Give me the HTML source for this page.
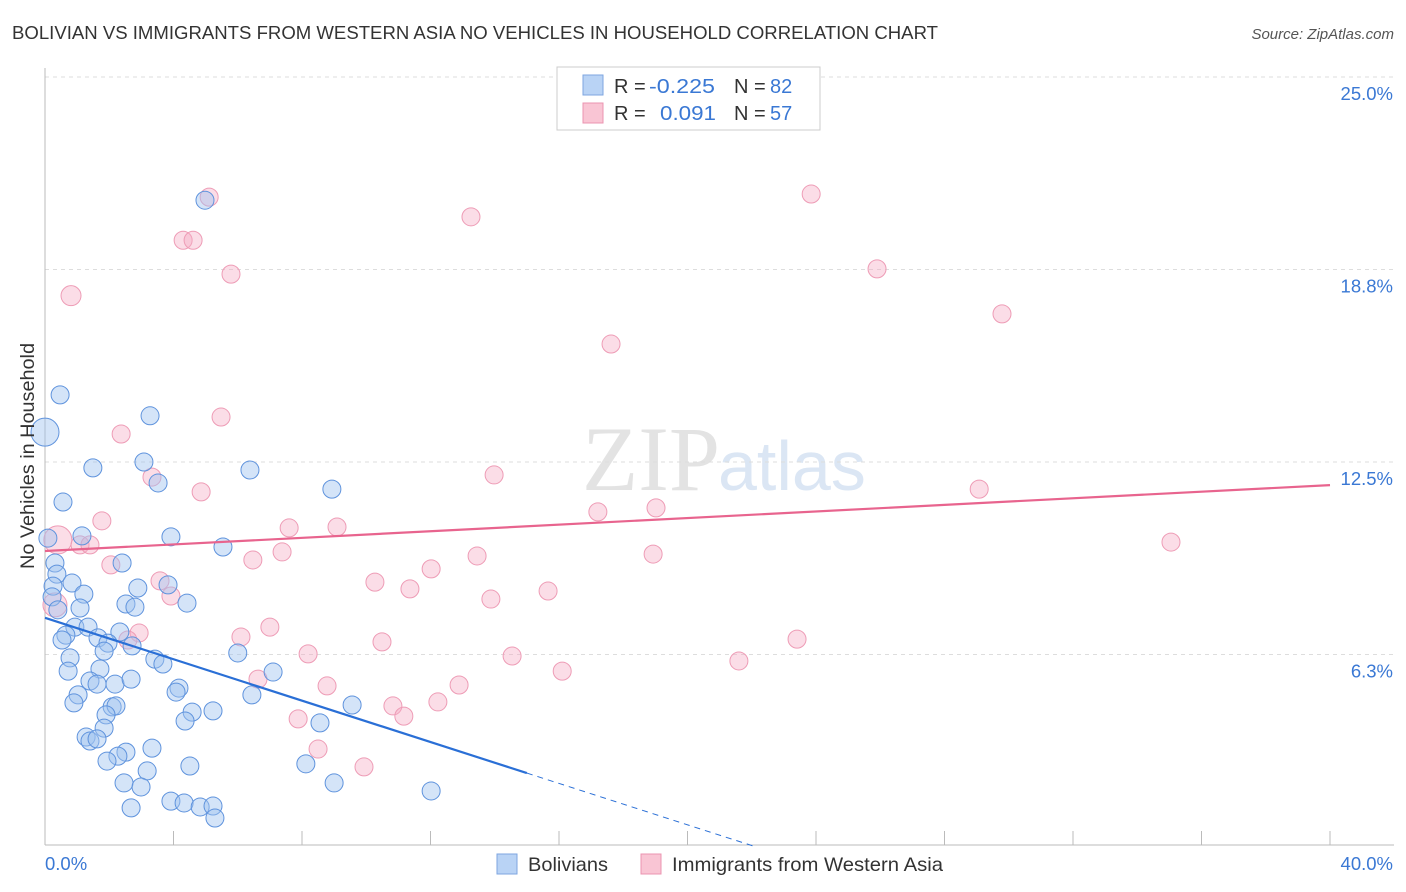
<!DOCTYPE html>
<html><head><meta charset="utf-8">
<style>
body{margin:0;background:#fff;font-family:"Liberation Sans",sans-serif;}
svg{display:block}
</style></head>
<body>
<svg id="chart" width="1406" height="892" xmlns="http://www.w3.org/2000/svg" font-family="Liberation Sans, sans-serif">
<text x="12" y="39" font-size="18" fill="#333" textLength="926" lengthAdjust="spacingAndGlyphs">BOLIVIAN VS IMMIGRANTS FROM WESTERN ASIA NO VEHICLES IN HOUSEHOLD CORRELATION CHART</text>
<text x="1394" y="39" font-size="15" fill="#555" text-anchor="end" font-style="italic">Source: ZipAtlas.com</text>
<text x="720" y="490" font-size="92" fill="#e3e3e3" text-anchor="end" font-family="Liberation Serif, serif">ZIP</text>
<text x="718" y="490" font-size="70" fill="#dbe6f4">atlas</text>
<g id="grid"></g>
<g id="axes"></g>
<g id="marks"></g>
<text transform="translate(34,456) rotate(-90)" font-size="19" fill="#333" text-anchor="middle" textLength="226" lengthAdjust="spacingAndGlyphs">No Vehicles in Household</text>
<g>
<rect x="557" y="67" width="263" height="63" fill="#fff" stroke="#ccc"/>
<rect x="583" y="75" width="20" height="20" fill="#b9d3f5" stroke="#7ea6e0"/>
<rect x="583" y="103" width="20" height="20" fill="#f9c5d4" stroke="#eb94b0"/>
<text x="614" y="93" font-size="20" fill="#333">R =</text>
<text x="649" y="93" font-size="20" fill="#3a78d4" textLength="66" lengthAdjust="spacingAndGlyphs">-0.225</text>
<text x="734" y="93" font-size="20" fill="#333">N =</text>
<text x="770" y="93" font-size="20" fill="#3a78d4">82</text>
<text x="614" y="120" font-size="20" fill="#333">R =</text>
<text x="660" y="120" font-size="20" fill="#3a78d4" textLength="56" lengthAdjust="spacingAndGlyphs">0.091</text>
<text x="734" y="120" font-size="20" fill="#333">N =</text>
<text x="770" y="120" font-size="20" fill="#3a78d4">57</text>
</g>
<g>
<rect x="497" y="854" width="20" height="20" fill="#b9d3f5" stroke="#7ea6e0"/>
<text x="528" y="871" font-size="19.5" fill="#333" textLength="80" lengthAdjust="spacingAndGlyphs">Bolivians</text>
<rect x="641" y="854" width="20" height="20" fill="#f9c5d4" stroke="#eb94b0"/>
<text x="672" y="871" font-size="19.5" fill="#333" textLength="271" lengthAdjust="spacingAndGlyphs">Immigrants from Western Asia</text>
</g>
</svg>
<script>
const yTicks=[6.25,12.5,18.75,25];
const yTickLabels=["6.3%","12.5%","18.8%","25.0%"];
const xTickLabels=["0.0%","40.0%"];
const blueX=[0,0.47,0.56,1.49,3.27,3.08,3.52,4.98,6.38,8.93,3.92,5.54,0.09,1.15,0.31,0.37,0.84,0.25,0.22,1.21,2.40,2.89,3.83,2.52,2.80,4.42,1.09,0.40,0.93,1.34,0.65,0.53,1.65,2.33,1.96,2.71,1.84,0.78,3.42,3.67,6.0,0.72,1.71,7.10,1.40,1.62,2.18,2.68,4.17,4.08,6.44,1.03,0.90,2.09,2.21,1.90,4.58,5.23,9.56,4.36,8.56,1.84,1.28,1.40,1.62,3.33,2.52,2.27,1.93,4.51,3.18,8.12,2.46,2.99,9.0,12.02,3.92,4.33,2.68,4.83,5.23,5.29];
const blueY=[13.47,14.68,11.2,12.31,14.0,12.5,11.82,21.0,12.24,11.62,10.07,9.74,10.03,10.1,9.22,8.86,8.57,8.47,8.12,8.21,9.22,8.41,8.51,7.89,7.79,7.92,7.76,7.7,7.14,7.14,6.88,6.72,6.79,6.98,6.62,6.53,6.36,6.14,6.1,5.94,6.3,5.71,5.78,5.68,5.39,5.29,5.29,5.45,5.16,5.03,4.94,4.94,4.68,4.55,4.58,4.29,4.38,4.42,4.61,4.09,4.03,3.86,3.57,3.44,3.51,3.21,3.08,2.95,2.79,2.63,2.47,2.70,2.08,1.95,2.08,1.82,1.49,1.43,1.27,1.30,1.33,0.94];
const pinkX=[5.11,4.30,4.61,5.79,0.81,13.26,23.85,25.9,29.79,17.62,5.48,2.37,3.33,4.86,13.98,29.08,19.02,17.21,1.77,7.60,9.09,0.40,1.09,1.40,35.05,7.38,6.47,13.45,18.93,2.05,12.02,10.27,11.36,15.66,3.58,3.92,13.88,0.31,2.93,2.58,7.0,6.10,10.49,23.41,8.19,14.54,21.6,16.1,6.63,8.78,12.89,12.23,10.83,11.17,7.88,8.50,9.93];
const pinkY=[21.1,19.7,19.7,18.6,17.9,20.46,21.2,18.77,17.31,16.33,13.96,13.41,12.01,11.53,12.08,11.62,11.01,10.88,10.59,10.36,10.39,9.97,9.81,9.81,9.90,9.58,9.32,9.45,9.51,9.16,9.03,8.6,8.38,8.31,8.64,8.15,8.05,7.86,6.95,6.72,7.14,6.82,6.66,6.75,6.27,6.20,6.04,5.71,5.45,5.23,5.26,4.71,4.58,4.25,4.16,3.18,2.6];
const blueBig={0:14}; const pinkBig={4:10,21:14,37:12};
const blueFit=[7.44,-0.336]; const pinkFit=[9.61,0.0535];
const X=v=>45+v*(1285/40), Y=v=>847-v*30.8;
const NS="http://www.w3.org/2000/svg";
function mk(t,a,p){const e=document.createElementNS(NS,t);for(const k in a)e.setAttribute(k,a[k]);p.appendChild(e);return e;}
const grid=document.getElementById('grid'),axes=document.getElementById('axes'),marks=document.getElementById('marks');
yTicks.forEach((t,i)=>{const l=mk('line',{x1:45,x2:1394,y1:Y(t),y2:Y(t),stroke:'#ddd','stroke-dasharray':'4,4'},grid);


const tx=mk('text',{x:1393,y:Y(t)+23,'font-size':18.5,fill:'#3a78d4','text-anchor':'end'},axes);tx.textContent=yTickLabels[i];

});
const ax=mk('line',{x1:45,x2:1394,y1:845,y2:845,stroke:'#bbb'},axes);


const ay=mk('line',{x1:45,x2:45,y1:68,y2:845,stroke:'#bbb'},axes);


for(let i=0;i<=10;i++){const t=mk('line',{x1:X(i*4),x2:X(i*4),y1:831,y2:845,stroke:'#bbb'},axes);

}
[[0,'start',45],[40,'end',1393]].forEach((d,i)=>{const t=mk('text',{x:d[2],y:870,'font-size':18.5,fill:'#3a78d4','text-anchor':d[1]},axes);t.textContent=xTickLabels[i];

});
pinkX.forEach((x,i)=>{const c=mk('circle',{cx:X(x),cy:Y(pinkY[i]),r:pinkBig[i]||9,fill:'rgba(246,170,195,0.4)',stroke:'#ee9cb6','stroke-width':1},marks);

});
blueX.forEach((x,i)=>{const c=mk('circle',{cx:X(x),cy:Y(blueY[i]),r:blueBig[i]||9,fill:'rgba(160,195,240,0.45)',stroke:'#5f93dd','stroke-width':1},marks);

});
const pl=mk('line',{x1:X(0),y1:Y(pinkFit[0]),x2:X(40),y2:Y(pinkFit[0]+40*pinkFit[1]),stroke:'#e8648e','stroke-width':2.2},marks);


const bl=mk('line',{x1:X(0),y1:Y(blueFit[0]),x2:X(15),y2:Y(blueFit[0]+15*blueFit[1]),stroke:'#2a6fd6','stroke-width':2.2},marks);


const xe=-blueFit[0]/blueFit[1];
const bd=mk('line',{x1:X(15),y1:Y(blueFit[0]+15*blueFit[1]),x2:X(xe),y2:Y(0),stroke:'#2a6fd6','stroke-width':1,'stroke-dasharray':'6,5'},marks);


</script>
</body></html>
